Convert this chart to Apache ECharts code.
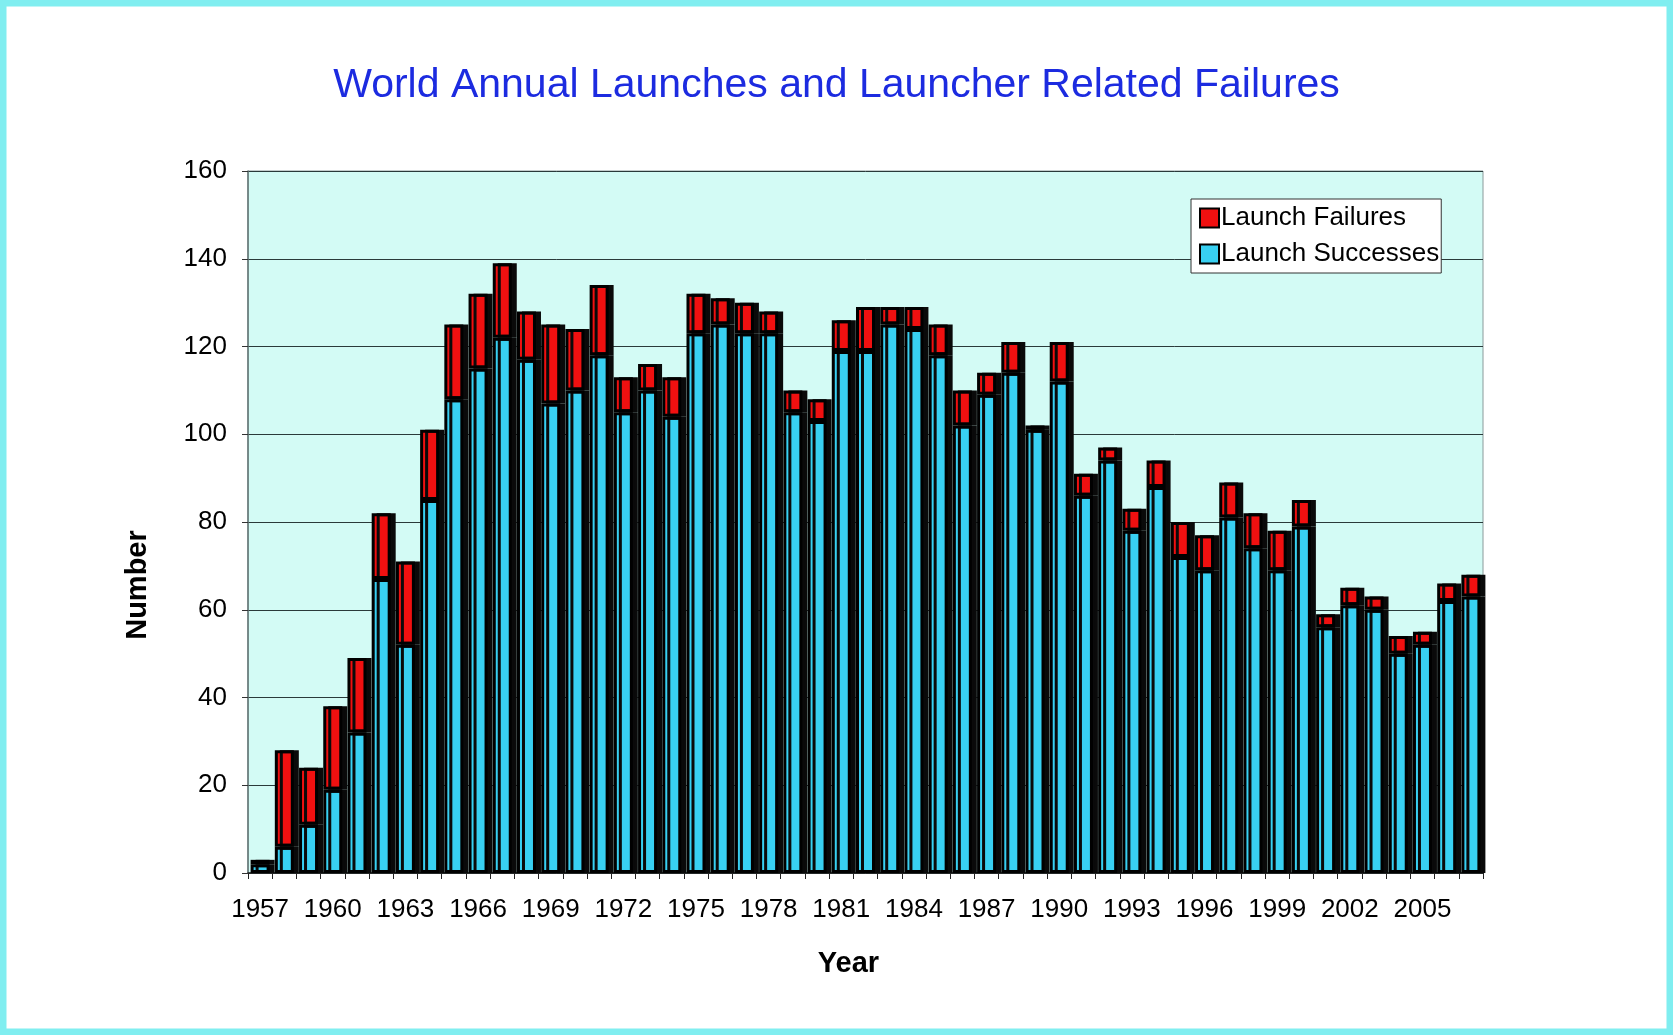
<!DOCTYPE html>
<html>
<head>
<meta charset="utf-8">
<title>World Annual Launches and Launcher Related Failures</title>
<script src="https://cdn.jsdelivr.net/npm/echarts@6/dist/echarts.min.js"></script>
<style>
  html, body { margin: 0; padding: 0; background: #ffffff; }
  #main { width: 1673px; height: 1035px; }
</style>
</head>
<body>
<div id="main"></div>
<script>
const years = [
    '1957', '1958', '1959', '1960', '1961', '1962', '1963', '1964', '1965', '1966',
    '1967', '1968', '1969', '1970', '1971', '1972', '1973', '1974', '1975', '1976',
    '1977', '1978', '1979', '1980', '1981', '1982', '1983', '1984', '1985', '1986',
    '1987', '1988', '1989', '1990', '1991', '1992', '1993', '1994', '1995', '1996',
    '1997', '1998', '1999', '2000', '2001', '2002', '2003', '2004', '2005', '2006',
    '2007'
];

// launches that reached orbit
const successes = [
    2, 6, 11, 19, 32, 67, 52, 85, 108, 115,
    122, 117, 107, 110, 118, 105, 110, 104, 123, 125,
    123, 123, 105, 103, 119, 119, 125, 124, 118, 102,
    109, 114, 101, 112, 86, 94, 78, 88, 72, 69,
    81, 74, 69, 79, 56, 61, 60, 50, 52, 62,
    63
];

// launcher related failures (stacked on top)
const failures = [
    1, 22, 13, 19, 17, 15, 19, 16, 17, 17,
    17, 11, 18, 14, 16, 8, 6, 9, 9, 6,
    7, 5, 5, 5, 7, 10, 4, 5, 7, 8,
    5, 7, 1, 9, 5, 3, 5, 6, 8, 8,
    8, 8, 9, 6, 3, 4, 3, 4, 3, 4,
    5
];

const yTicks = [0, 20, 40, 60, 80, 100, 120, 140, 160];

const chart = echarts.init(document.getElementById('main'));

const barStyle = (color) => ({
    color: color,
    borderColor: '#000000',
    borderWidth: 3,
    shadowColor: '#0a0a0a',
    shadowBlur: 0,
    shadowOffsetX: 5,
    shadowOffsetY: 0
});

const option = {
    backgroundColor: '#ffffff',
    textStyle: { fontFamily: 'Liberation Sans, Arial, sans-serif' },
    animation: false,
    graphic: [{
        type: 'rect',
        shape: { x: 3, y: 3, width: 1667, height: 1029 },
        style: { fill: 'none', stroke: '#80eef0', lineWidth: 7 },
        silent: true
    }],
    title: {
        text: 'World Annual Launches and Launcher Related Failures',
        left: 'center',
        top: 60,
        textStyle: {
            color: '#1c2be0',
            fontSize: 41,
            fontWeight: 'normal',
            fontFamily: 'Liberation Sans, Arial, sans-serif'
        }
    },
    legend: {
        data: ['Launch Failures', 'Launch Successes'],
        orient: 'vertical',
        left: 1191,
        top: 199,
        padding: [6, 2, 6, 8],
        itemGap: 10,
        itemWidth: 19,
        itemHeight: 19,
        icon: 'rect',
        backgroundColor: '#ffffff',
        borderColor: '#333333',
        borderWidth: 1,
        textStyle: {
            fontSize: 26,
            color: '#000000',
            padding: [0, 0, 0, -3]
        }
    },
    grid: {
        left: 248,
        right: 190,
        top: 171,
        bottom: 162,
        show: true,
        backgroundColor: '#d3fbf5',
        borderColor: '#8a9a9a',
        borderWidth: 1
    },
    xAxis: {
        type: 'category',
        data: years,
        name: 'Year',
        nameLocation: 'middle',
        nameGap: 76,
        nameTextStyle: { fontSize: 29, fontWeight: 'bold', color: '#000000', padding: [0, 34, 0, 0] },
        axisLine: { lineStyle: { color: '#222222', width: 1.5 } },
        axisTick: { show: true, interval: 0, length: 6, lineStyle: { color: '#222222' } },
        axisLabel: { interval: 2, fontSize: 26, color: '#000000', margin: 24 }
    },
    yAxis: {
        type: 'value',
        min: yTicks[0],
        max: yTicks[yTicks.length - 1],
        interval: 20,
        name: 'Number',
        nameLocation: 'middle',
        nameGap: 96,
        nameRotate: 90,
        nameTextStyle: { fontSize: 29, fontWeight: 'bold', color: '#000000', padding: [0, 126, 0, 0] },
        axisLine: { show: true, lineStyle: { color: '#5f7373', width: 1.5 } },
        axisTick: { show: true, length: 6, lineStyle: { color: '#333333' } },
        axisLabel: { fontSize: 26, color: '#000000', margin: 21 },
        splitLine: { show: true, lineStyle: { color: '#2a3a3a', width: 1 } }
    },
    series: [
        {
            name: 'Launch Successes',
            type: 'bar',
            stack: 'launches',
            data: successes,
            barWidth: 19,
            itemStyle: barStyle('#38d0f2')
        },
        {
            name: 'Launch Failures',
            type: 'bar',
            stack: 'launches',
            data: failures,
            barWidth: 19,
            itemStyle: barStyle('#f01010')
        }
    ]
};

chart.setOption(option);

window.addEventListener('resize', () => {
    chart.resize();
});
</script>
</body>
</html>
